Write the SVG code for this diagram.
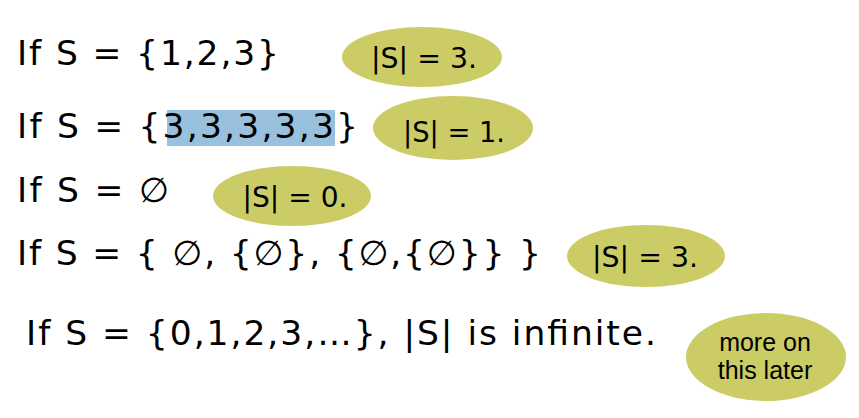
<svg xmlns="http://www.w3.org/2000/svg" width="859" height="418" viewBox="0 0 859 418">
  <style>
    .main { font-family: "DejaVu Sans", Verdana, sans-serif; font-size: 34.5px; fill: #000; }
    .card { font-family: "DejaVu Sans", Verdana, sans-serif; font-size: 28.5px; fill: #000; text-anchor: middle; }
    .note { font-family: "Liberation Sans", Arial, sans-serif; font-size: 25px; fill: #000; text-anchor: middle; }
    .bubble { fill: #cccc66; }
    .hl { fill: #99c0dc; }
  </style>
  <rect width="859" height="418" fill="#ffffff"/>
  <g id="line1">
    <text class="main" x="17" y="65" textLength="262" lengthAdjust="spacing">If S = {1,2,3}</text>
  </g>
  <g id="card1">
    <ellipse class="bubble" cx="422" cy="57" rx="80" ry="30"/>
    <text class="card" x="424" y="68" textLength="106" lengthAdjust="spacingAndGlyphs">|S| = 3.</text>
  </g>
  <g id="line2">
    <rect class="hl" x="167" y="110" width="168" height="36"/>
    <text class="main" x="17" y="138" textLength="341" lengthAdjust="spacing">If S = {3,3,3,3,3}</text>
  </g>
  <g id="card2">
    <ellipse class="bubble" cx="453" cy="128" rx="80" ry="32"/>
    <text class="card" x="454" y="142" textLength="102" lengthAdjust="spacingAndGlyphs">|S| = 1.</text>
  </g>
  <g id="line3">
    <text class="main" x="17" y="202" textLength="152" lengthAdjust="spacing">If S = ∅</text>
  </g>
  <g id="card3">
    <ellipse class="bubble" cx="292" cy="196" rx="79" ry="30"/>
    <text class="card" x="295" y="207" textLength="105" lengthAdjust="spacingAndGlyphs">|S| = 0.</text>
  </g>
  <g id="line4">
    <text class="main" x="17" y="265" textLength="524" lengthAdjust="spacing">If S = { ∅, {∅}, {∅,{∅}} }</text>
  </g>
  <g id="card4">
    <ellipse class="bubble" cx="646" cy="256" rx="79" ry="31"/>
    <text class="card" x="645" y="267" textLength="106" lengthAdjust="spacingAndGlyphs">|S| = 3.</text>
  </g>
  <g id="line5">
    <text class="main" x="26" y="345" textLength="630" lengthAdjust="spacing">If S = {0,1,2,3,…}, |S| is infinite.</text>
  </g>
  <g id="note">
    <ellipse class="bubble" cx="766" cy="357" rx="80" ry="44"/>
    <text class="note" x="765" y="351">more on</text>
    <text class="note" x="765" y="379">this later</text>
  </g>
  <g id="connectors"/>
</svg>
